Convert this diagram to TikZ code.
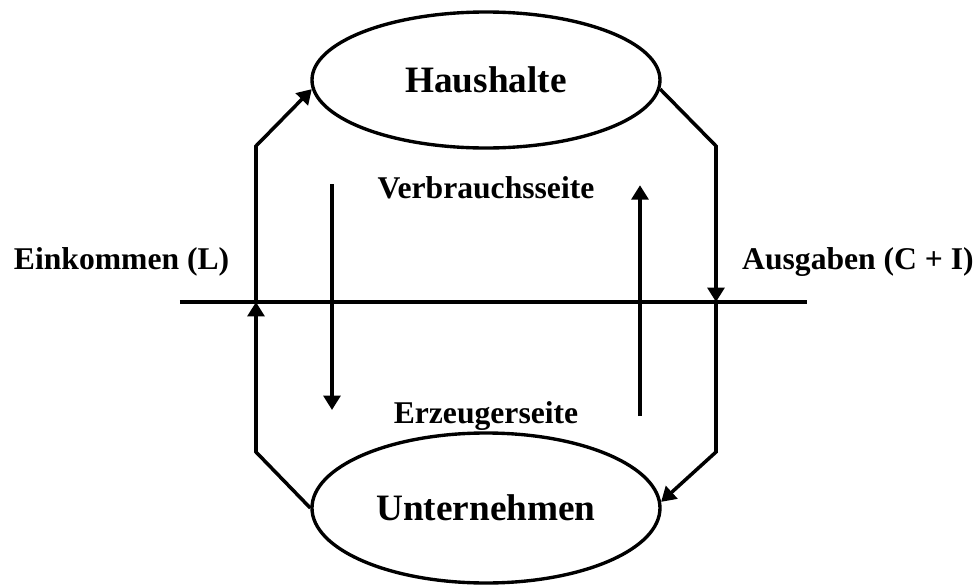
\documentclass[tikz,border=0pt]{standalone}
\usepackage{fontspec}
\setmainfont{Liberation Serif}
\usetikzlibrary{shapes.geometric, arrows.meta}

\begin{document}
\begin{tikzpicture}[
	sektor/.style={ellipse, draw, line width=2.4pt, inner sep=0pt, minimum width=8.7cm, font=\bfseries\fontsize{26.5}{31}\selectfont},
	schrift/.style={font=\bfseries\fontsize{22.5}{27}\selectfont},
	fluss/.style={line width=2.5pt, -{Triangle[length=0.36cm, width=0.42cm]}}
]
	\useasboundingbox (-12.15,-7.075) rectangle (12.35,7.55);

	\node[sektor, minimum height=3.4cm] (H) at (0,5.55) {Haushalte};
	\node[sektor, minimum height=3.75cm] (U) at (0,-5.15) {Unternehmen};

	\node[schrift] (ein) at (-9.11,1.0) {Einkommen (L)};
	\node[schrift] (aus) at (9.3,1.0) {Ausgaben (C + I)};
	\node[schrift] (verb) at (0,2.85) {Verbrauchsseite};
	\node[schrift] (erz) at (0,-2.85) {Erzeugerseite};

	% Trennlinie
	\coordinate (la) at (-7.65,0);
	\coordinate (le) at (8.025,0);
	\draw[line width=2.5pt] (la) -- (le);

	% Kreislauf links
	\coordinate (lx) at (-5.75,0);
	\coordinate (lo) at (-5.75,3.9);
	\coordinate (lu) at (-5.75,-3.75);
	\draw[fluss] (U.west) -- (lu) -- (lx);
	\draw[fluss] (lx) -- (lo) -- (H.183);

	% Kreislauf rechts
	\coordinate (rx) at (5.75,0);
	\coordinate (ro) at (5.75,3.9);
	\coordinate (ru) at (5.75,-3.75);
	\draw[fluss] (H.357) -- (ro) -- (rx);
	\draw[fluss] (rx) -- (ru) -- (U.2);

	% Seiten
	\coordinate (va) at (-3.85,2.95);
	\coordinate (ve) at (-3.85,-2.7);
	\coordinate (ea) at (3.85,-2.85);
	\coordinate (ee) at (3.85,2.92);
	\draw[fluss] (va) -- (ve);
	\draw[fluss] (ea) -- (ee);

\end{tikzpicture}
\end{document}
